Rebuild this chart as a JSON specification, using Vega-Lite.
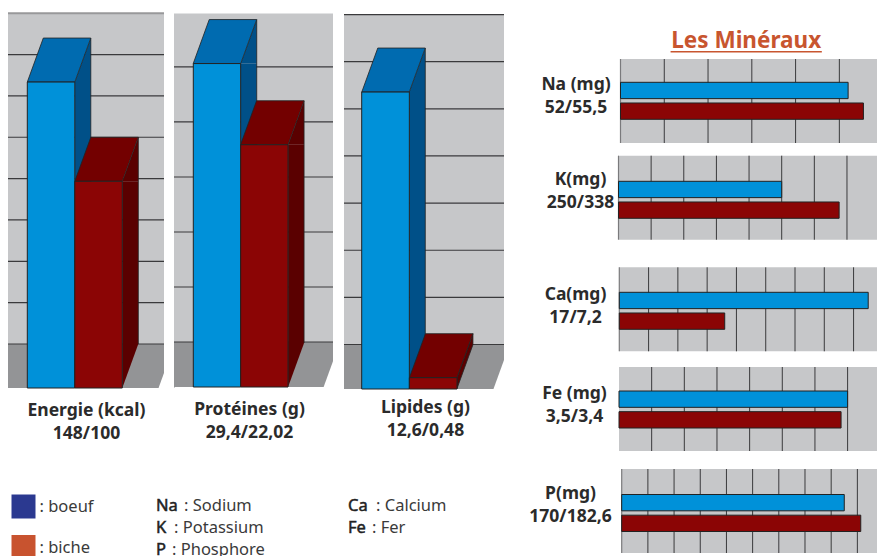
{
"$schema":"https://vega.github.io/schema/vega-lite/v6.json",
"padding":{"left":7,"top":12,"right":0,"bottom":0},
"background":"white",
"config":{"view":{"stroke":null},"font":"Noto Sans","axis":{"titleFont":"Noto Sans","titleFontWeight":"bold","titleColor":"#2b2b2b","titleFontSize":17.5,"titleLineHeight":23.5}},
"bounds":"flush","spacing":610,"resolve":{"scale":{"fill":"independent"}},
"hconcat":[
{"bounds":"flush","spacing":476,"resolve":{"scale":{"fill":"independent"}},"vconcat":[
 {"bounds":"flush","spacing":336,"resolve":{"scale":{"fill":"independent"}},"hconcat":[
  {"bounds":"flush","spacing":10,"resolve":{"scale":{"fill":"independent"}},"hconcat":[
   {"width":156,"height":376,
    "data":{"values":[{"species":"boeuf","v":148},{"species":"biche","v":100}]},
    "layer":[
     {"data":{"values":[{}]},"mark":{"type":"rect","color":"#c6c7c9"},"encoding":{"y":{"datum":181.4,"type":"quantitative","scale":{"domain":[0,181.4],"range":[375,0]},"axis":null},"y2":{"datum":0}}},
     {"data":{"values":[{}]},"mark":{"type":"rect","color":"#939496","y2Offset":-44},"encoding":{"y":{"datum":0,"type":"quantitative","scale":{"domain":[0,181.4]},"axis":null},"y2":{"datum":0}}},
     {"data":{"values":[{}]},"mark":{"type":"point","shape":"M60 0L76 -44L76 0Z","size":4,"filled":true,"opacity":1,"color":"white"},"encoding":{"x":{"datum":"biche","type":"nominal","axis":null},"y":{"datum":0,"type":"quantitative","scale":{"domain":[0,181.4]},"axis":null}}},
     {"data":{"values":[{"g":0},{"g":20},{"g":40},{"g":60},{"g":80},{"g":100},{"g":120},{"g":140}]},"mark":{"type":"rule","color":"#3a3a3c","strokeWidth":1.2,"yOffset":-44},"encoding":{"y":{"field":"g","type":"quantitative","scale":{"domain":[0,181.4]},"axis":null}}},
     {"data":{"values":[{"g":160}]},"mark":{"type":"rule","color":"#98989a","strokeWidth":2,"yOffset":-44},"encoding":{"y":{"field":"g","type":"quantitative","scale":{"domain":[0,181.4]},"axis":null}}},
     {"mark":{"type":"bar","size":16,"xOffset":31.75,"y2Offset":-44},"encoding":{"x":{"field":"species","type":"nominal","scale":{"type":"band","domain":["boeuf","biche"],"range":[19.3,114.3],"paddingInner":0,"paddingOuter":0},"axis":{"labels":false,"ticks":false,"domain":false,"grid":false,"title":["Energie (kcal)","148/100"],"titleX":78,"titleY":21,"titleBaseline":"middle"}},"y":{"field":"v","type":"quantitative","scale":{"domain":[0,181.4]},"axis":null},"y2":{"datum":0},"fill":{"field":"species","scale":{"domain":["boeuf","biche"],"range":["#005088","#5a0000"]},"legend":null}}},
     {"mark":{"type":"point","shape":"M23.75 0L39.75 -44L39.75 0Z","size":4,"filled":true,"opacity":1},"encoding":{"x":{"field":"species","type":"nominal","axis":null},"y":{"field":"v","type":"quantitative","scale":{"domain":[0,181.4]},"axis":null},"fill":{"field":"species","scale":{"domain":["boeuf","biche"],"range":["#005088","#5a0000"]},"legend":null}}},
     {"mark":{"type":"point","shape":"M23.75 0L39.75 -44L23.75 -44Z","size":4,"filled":true,"opacity":1},"encoding":{"x":{"field":"species","type":"nominal","axis":null},"y":{"datum":0,"type":"quantitative","scale":{"domain":[0,181.4]},"axis":null},"fill":{"field":"species","scale":{"domain":["boeuf","biche"],"range":["#005088","#5a0000"]},"legend":null}}},
     {"mark":{"type":"rule","color":"#222222","strokeWidth":0.8,"xOffset":39.75,"yOffset":-44,"y2Offset":-44},"encoding":{"x":{"field":"species","type":"nominal","axis":null},"y":{"field":"v","type":"quantitative","scale":{"domain":[0,181.4]},"axis":null},"y2":{"datum":0}}},
     {"mark":{"type":"point","shape":"M-23.75 0L-7.75 -44L39.75 -44L23.75 0Z","size":4,"filled":true,"opacity":1,"stroke":"#222222","strokeWidth":0.8},"encoding":{"x":{"field":"species","type":"nominal","axis":null},"y":{"field":"v","type":"quantitative","scale":{"domain":[0,181.4]},"axis":null},"fill":{"field":"species","scale":{"domain":["boeuf","biche"],"range":["#006bb0","#730000"]},"legend":null}}},
     {"mark":{"type":"bar","stroke":"#222222","strokeWidth":1},"encoding":{"x":{"field":"species","type":"nominal","axis":null},"y":{"field":"v","type":"quantitative","scale":{"domain":[0,181.4]},"axis":null},"y2":{"datum":0},"fill":{"field":"species","scale":{"domain":["boeuf","biche"],"range":["#0091d9","#8b0505"]},"legend":null}}}
    ],"resolve":{"scale":{"fill":"independent"},"axis":{"x":"independent","y":"independent"}}},
   {"width":159,"height":376,
    "data":{"values":[{"species":"boeuf","v":29.4},{"species":"biche","v":22.02}]},
    "layer":[
     {"data":{"values":[{}]},"mark":{"type":"rect","color":"#c6c7c9"},"encoding":{"y":{"datum":33.95,"type":"quantitative","scale":{"domain":[0,33.95],"range":[374,0.5]},"axis":{"labels":false,"ticks":false,"grid":false,"title":null,"domain":true,"domainColor":"#98989a","domainWidth":1}},"y2":{"datum":0}}},
     {"data":{"values":[{}]},"mark":{"type":"rect","color":"#939496","y2Offset":-45},"encoding":{"y":{"datum":0,"type":"quantitative","scale":{"domain":[0,33.95]},"axis":null},"y2":{"datum":0}}},
     {"data":{"values":[{}]},"mark":{"type":"point","shape":"M59.3 0L75.3 -44L75.3 0Z","size":4,"filled":true,"opacity":1,"color":"white"},"encoding":{"x":{"datum":"biche","type":"nominal","axis":null},"y":{"datum":0,"type":"quantitative","scale":{"domain":[0,33.95]},"axis":null}}},
     {"data":{"values":[{"g":0},{"g":5},{"g":10},{"g":15},{"g":20},{"g":25}]},"mark":{"type":"rule","color":"#3a3a3c","strokeWidth":1.2,"yOffset":-45},"encoding":{"y":{"field":"g","type":"quantitative","scale":{"domain":[0,33.95]},"axis":null}}},
     {"mark":{"type":"bar","size":16,"xOffset":31.75,"y2Offset":-44},"encoding":{"x":{"field":"species","type":"nominal","scale":{"type":"band","domain":["boeuf","biche"],"range":[19.3,114],"paddingInner":0,"paddingOuter":0},"axis":{"labels":false,"ticks":false,"domain":false,"grid":false,"title":["Protéines (g)","29,4/22,02"],"titleX":75,"titleY":20,"titleBaseline":"middle"}},"y":{"field":"v","type":"quantitative","scale":{"domain":[0,33.95]},"axis":null},"y2":{"datum":0},"fill":{"field":"species","scale":{"domain":["boeuf","biche"],"range":["#005088","#5a0000"]},"legend":null}}},
     {"mark":{"type":"point","shape":"M23.75 0L39.75 -44L39.75 0Z","size":4,"filled":true,"opacity":1},"encoding":{"x":{"field":"species","type":"nominal","axis":null},"y":{"field":"v","type":"quantitative","scale":{"domain":[0,33.95]},"axis":null},"fill":{"field":"species","scale":{"domain":["boeuf","biche"],"range":["#005088","#5a0000"]},"legend":null}}},
     {"mark":{"type":"point","shape":"M23.75 0L39.75 -44L23.75 -44Z","size":4,"filled":true,"opacity":1},"encoding":{"x":{"field":"species","type":"nominal","axis":null},"y":{"datum":0,"type":"quantitative","scale":{"domain":[0,33.95]},"axis":null},"fill":{"field":"species","scale":{"domain":["boeuf","biche"],"range":["#005088","#5a0000"]},"legend":null}}},
     {"mark":{"type":"rule","color":"#222222","strokeWidth":0.8,"xOffset":39.75,"yOffset":-44,"y2Offset":-44},"encoding":{"x":{"field":"species","type":"nominal","axis":null},"y":{"field":"v","type":"quantitative","scale":{"domain":[0,33.95]},"axis":null},"y2":{"datum":0}}},
     {"mark":{"type":"point","shape":"M-23.75 0L-7.75 -44L39.75 -44L23.75 0Z","size":4,"filled":true,"opacity":1,"stroke":"#222222","strokeWidth":0.8},"encoding":{"x":{"field":"species","type":"nominal","axis":null},"y":{"field":"v","type":"quantitative","scale":{"domain":[0,33.95]},"axis":null},"fill":{"field":"species","scale":{"domain":["boeuf","biche"],"range":["#006bb0","#730000"]},"legend":null}}},
     {"mark":{"type":"bar","stroke":"#222222","strokeWidth":1},"encoding":{"x":{"field":"species","type":"nominal","axis":null},"y":{"field":"v","type":"quantitative","scale":{"domain":[0,33.95]},"axis":null},"y2":{"datum":0},"fill":{"field":"species","scale":{"domain":["boeuf","biche"],"range":["#0091d9","#8b0505"]},"legend":null}}}
    ],"resolve":{"scale":{"fill":"independent"},"axis":{"x":"independent","y":"independent"}}}
  ]},
  {"width":160,"height":376,
   "data":{"values":[{"species":"boeuf","v":12.6},{"species":"biche","v":0.48}]},
   "layer":[
    {"data":{"values":[{}]},"mark":{"type":"rect","color":"#c6c7c9"},"encoding":{"y":{"datum":15.89,"type":"quantitative","scale":{"domain":[0,15.89],"range":[376,1.5]},"axis":null},"y2":{"datum":0}}},
    {"data":{"values":[{}]},"mark":{"type":"rect","color":"#939496","y2Offset":-44.5},"encoding":{"y":{"datum":0,"type":"quantitative","scale":{"domain":[0,15.89]},"axis":null},"y2":{"datum":0}}},
    {"data":{"values":[{}]},"mark":{"type":"point","shape":"M60.3 0L76.3 -44L76.3 0Z","size":4,"filled":true,"opacity":1,"color":"white"},"encoding":{"x":{"datum":"biche","type":"nominal","axis":null},"y":{"datum":0,"type":"quantitative","scale":{"domain":[0,15.89]},"axis":null}}},
    {"data":{"values":[{"g":0},{"g":2},{"g":4},{"g":6},{"g":8},{"g":10},{"g":12},{"g":14}]},"mark":{"type":"rule","color":"#3a3a3c","strokeWidth":1.2,"yOffset":-44.5},"encoding":{"y":{"field":"g","type":"quantitative","scale":{"domain":[0,15.89]},"axis":null}}},
    {"transform":[{"filter":"datum.v >= 1"}],"mark":{"type":"bar","size":16,"xOffset":31.75,"y2Offset":-44},"encoding":{"x":{"field":"species","type":"nominal","scale":{"type":"band","domain":["boeuf","biche"],"range":[17.7,113],"paddingInner":0,"paddingOuter":0},"axis":{"labels":false,"ticks":false,"domain":false,"grid":false,"title":["Lipides (g)","12,6/0,48"],"titleX":81,"titleY":18,"titleBaseline":"middle"}},"y":{"field":"v","type":"quantitative","scale":{"domain":[0,15.89]},"axis":null},"y2":{"datum":0},"fill":{"field":"species","scale":{"domain":["boeuf","biche"],"range":["#005088","#5a0000"]},"legend":null}}},
    {"transform":[{"filter":"datum.v >= 1"}],"mark":{"type":"point","shape":"M23.75 0L39.75 -44L39.75 0Z","size":4,"filled":true,"opacity":1},"encoding":{"x":{"field":"species","type":"nominal","axis":null},"y":{"field":"v","type":"quantitative","scale":{"domain":[0,15.89]},"axis":null},"fill":{"field":"species","scale":{"domain":["boeuf","biche"],"range":["#005088","#5a0000"]},"legend":null}}},
    {"transform":[{"filter":"datum.v >= 1"}],"mark":{"type":"point","shape":"M23.75 0L39.75 -44L23.75 -44Z","size":4,"filled":true,"opacity":1},"encoding":{"x":{"field":"species","type":"nominal","axis":null},"y":{"datum":0,"type":"quantitative","scale":{"domain":[0,15.89]},"axis":null},"fill":{"field":"species","scale":{"domain":["boeuf","biche"],"range":["#005088","#5a0000"]},"legend":null}}},
    {"transform":[{"filter":"datum.v < 1"}],"mark":{"type":"point","shape":"M23.75 0L39.75 -44L39.75 -33L23.75 11Z","size":4,"filled":true,"opacity":1,"stroke":"#222222","strokeWidth":0.8},"encoding":{"x":{"field":"species","type":"nominal","axis":null},"y":{"field":"v","type":"quantitative","scale":{"domain":[0,15.89]},"axis":null},"fill":{"field":"species","scale":{"domain":["boeuf","biche"],"range":["#005088","#5a0000"]},"legend":null}}},
    {"transform":[{"filter":"datum.v >= 1"}],"mark":{"type":"rule","color":"#222222","strokeWidth":0.8,"xOffset":39.75,"yOffset":-44,"y2Offset":-44},"encoding":{"x":{"field":"species","type":"nominal","axis":null},"y":{"field":"v","type":"quantitative","scale":{"domain":[0,15.89]},"axis":null},"y2":{"datum":0}}},
    {"mark":{"type":"point","shape":"M-23.75 0L-7.75 -44L39.75 -44L23.75 0Z","size":4,"filled":true,"opacity":1,"stroke":"#222222","strokeWidth":0.8},"encoding":{"x":{"field":"species","type":"nominal","axis":null},"y":{"field":"v","type":"quantitative","scale":{"domain":[0,15.89]},"axis":null},"fill":{"field":"species","scale":{"domain":["boeuf","biche"],"range":["#006bb0","#730000"]},"legend":null}}},
    {"mark":{"type":"bar","stroke":"#222222","strokeWidth":1},"encoding":{"x":{"field":"species","type":"nominal","axis":null},"y":{"field":"v","type":"quantitative","scale":{"domain":[0,15.89]},"axis":null},"y2":{"datum":0},"fill":{"field":"species","scale":{"domain":["boeuf","biche"],"range":["#0091d9","#8b0505"]},"legend":null}}}
   ],"resolve":{"scale":{"fill":"independent"},"axis":{"x":"independent","y":"independent"}}}
 ]},
 {"bounds":"flush","spacing":339.5,"resolve":{"scale":{"fill":"independent"}},"hconcat":[
  {"bounds":"flush","spacing":147.5,"resolve":{"scale":{"fill":"independent"}},"hconcat":[
   {"bounds":"flush","spacing":0,"resolve":{"scale":{"fill":"independent"}},"hconcat":[
    {"width":31,"height":67,"data":{"values":[{"species":"boeuf"},{"species":"biche"}]},
     "mark":{"type":"point","shape":"square","size":576,"filled":true,"opacity":1},
     "encoding":{"y":{"field":"species","type":"nominal","scale":{"type":"point","domain":["boeuf","biche"],"range":[17.5,58],"padding":0},"axis":null},"fill":{"field":"species","scale":{"domain":["boeuf","biche"],"range":["#2b3990","#c8532f"]},"legend":null}}},
    {"width":1,"height":67,"data":{"values":[{"species":"boeuf","t":": boeuf"},{"species":"biche","t":": biche"}]},
     "mark":{"type":"text","align":"left","font":"Noto Sans","fontSize":16.5,"color":"#3a3a3a"},
     "encoding":{"y":{"field":"species","type":"nominal","scale":{"type":"point","domain":["boeuf","biche"],"range":[18,59],"padding":0},"axis":null},"text":{"field":"t"}}}
   ]},
   {"width":1,"height":67,"data":{"values":[{"abbr":"Na","t":": Sodium"},{"abbr":"K","t":": Potassium"},{"abbr":"P","t":": Phosphore"}]},
    "layer":[
     {"transform":[{"filter":"datum.abbr === 'Na'"}],"mark":{"type":"text","align":"left","dx":28,"font":"Noto Sans","fontSize":16.5,"color":"#3a3a3a"},"encoding":{"y":{"field":"abbr","type":"nominal","scale":{"type":"point","domain":["Na","K","P"],"range":[17,61],"padding":0},"axis":null},"text":{"field":"t"}}},
     {"transform":[{"filter":"datum.abbr === 'K'"}],"mark":{"type":"text","align":"left","dx":18,"font":"Noto Sans","fontSize":16.5,"color":"#3a3a3a"},"encoding":{"y":{"field":"abbr","type":"nominal","scale":{"type":"point","domain":["Na","K","P"],"range":[17,61],"padding":0},"axis":null},"text":{"field":"t"}}},
     {"transform":[{"filter":"datum.abbr === 'P'"}],"mark":{"type":"text","align":"left","dx":16,"font":"Noto Sans","fontSize":16.5,"color":"#3a3a3a"},"encoding":{"y":{"field":"abbr","type":"nominal","scale":{"type":"point","domain":["Na","K","P"],"range":[17,61],"padding":0},"axis":null},"text":{"field":"t"}}},
     {"mark":{"type":"text","align":"left","font":"Noto Sans","fontSize":16.5,"color":"#222222","stroke":"#222222","strokeWidth":0.5},"encoding":{"y":{"field":"abbr","type":"nominal","scale":{"type":"point","domain":["Na","K","P"],"range":[17,61],"padding":0},"axis":null},"text":{"field":"abbr"}}}
    ]}
  ]},
  {"width":1,"height":67,"data":{"values":[{"abbr":"Ca","t":": Calcium"},{"abbr":"Fe","t":": Fer"}]},
   "layer":[
    {"transform":[{"filter":"datum.abbr === 'Ca'"}],"mark":{"type":"text","align":"left","dx":28,"font":"Noto Sans","fontSize":16.5,"color":"#3a3a3a"},"encoding":{"y":{"field":"abbr","type":"nominal","scale":{"type":"point","domain":["Ca","Fe","_"],"range":[17,61],"padding":0},"axis":null},"text":{"field":"t"}}},
    {"transform":[{"filter":"datum.abbr === 'Fe'"}],"mark":{"type":"text","align":"left","dx":24,"font":"Noto Sans","fontSize":16.5,"color":"#3a3a3a"},"encoding":{"y":{"field":"abbr","type":"nominal","scale":{"type":"point","domain":["Ca","Fe","_"],"range":[17,61],"padding":0},"axis":null},"text":{"field":"t"}}},
    {"mark":{"type":"text","align":"left","font":"Noto Sans","fontSize":16.5,"color":"#222222","stroke":"#222222","strokeWidth":0.5},"encoding":{"y":{"field":"abbr","type":"nominal","scale":{"type":"point","domain":["Ca","Fe","_"],"range":[17,61],"padding":0},"axis":null},"text":{"field":"abbr"}}}
   ]}
 ]}
]},
{"bounds":"flush","spacing":456,"resolve":{"scale":{"fill":"independent"}},"vconcat":[
 {"bounds":"flush","spacing":354,"resolve":{"scale":{"fill":"independent"}},"vconcat":[
  {"bounds":"flush","spacing":254.3,"resolve":{"scale":{"fill":"independent"}},"vconcat":[
   {"bounds":"flush","spacing":142.7,"resolve":{"scale":{"fill":"independent"}},"vconcat":[
    {"bounds":"flush","spacing":0,"resolve":{"scale":{"fill":"independent"}},"vconcat":[
     {"width":259,"height":46,"data":{"values":[{"t":"Les Minéraux"}]},
      "layer":[
       {"mark":{"type":"text","font":"Noto Sans","fontWeight":"bold","fontSize":22.5,"color":"#c8552f"},"encoding":{"x":{"datum":0.495,"type":"quantitative","scale":{"domain":[0,1]},"axis":null},"y":{"datum":0.39,"type":"quantitative","scale":{"domain":[0,1],"range":[46,0]},"axis":null},"text":{"field":"t"}}},
       {"mark":{"type":"rule","color":"#c8552f","strokeWidth":1.5},"encoding":{"x":{"datum":0.203,"type":"quantitative","scale":{"domain":[0,1]},"axis":null},"x2":{"datum":0.787},"y":{"datum":0.16,"type":"quantitative","scale":{"domain":[0,1]},"axis":null}}}
      ]},
     {"width":259,"height":84,"layer":[
      {"data":{"values":[{}]},"mark":{"type":"rect","color":"#c6c7c9"},"encoding":{"x":{"datum":0,"type":"quantitative","scale":{"domain":[0,58.6],"range":[2.5,259]},"axis":null},"x2":{"datum":58.6}}},
      {"data":{"values":[{"t":0}]},"mark":{"type":"rule","color":"#7a7a7c","strokeWidth":1.2},"encoding":{"x":{"field":"t","type":"quantitative","scale":{"domain":[0,58.6]},"axis":null}}},
      {"data":{"values":[{"t":10},{"t":20},{"t":30},{"t":40},{"t":50}]},"mark":{"type":"rule","color":"#3a3a3c","strokeWidth":1},"encoding":{"x":{"field":"t","type":"quantitative","scale":{"domain":[0,58.6]},"axis":null}}},
      {"data":{"values":[{"species":"boeuf","v":52},{"species":"biche","v":55.5}]},"mark":{"type":"bar","stroke":"#222222","strokeWidth":1},"encoding":{"x":{"field":"v","type":"quantitative","scale":{"domain":[0,58.6]},"axis":null},"y":{"field":"species","type":"nominal","scale":{"type":"band","domain":["boeuf","biche"],"range":[23.3,60.3],"paddingInner":0.21,"paddingOuter":0},"axis":{"labels":false,"ticks":false,"domain":false,"grid":false,"title":["Na (mg)","52/55,5"],"titleAngle":0,"titleAlign":"center","titleBaseline":"middle","titleX":-42.5,"titleY":25}},"fill":{"field":"species","scale":{"domain":["boeuf","biche"],"range":["#0091d9","#8b0505"]},"legend":null}}}
     ]}
    ]},
    {"width":259,"height":84,"layer":[
     {"data":{"values":[{}]},"mark":{"type":"rect","color":"#c6c7c9"},"encoding":{"x":{"datum":0,"type":"quantitative","scale":{"domain":[0,396],"range":[0.5,259]},"axis":null},"x2":{"datum":396}}},
     {"data":{"values":[{"t":0}]},"mark":{"type":"rule","color":"#7a7a7c","strokeWidth":1.2},"encoding":{"x":{"field":"t","type":"quantitative","scale":{"domain":[0,396]},"axis":null}}},
     {"data":{"values":[{"t":50},{"t":100},{"t":150},{"t":200},{"t":250},{"t":300},{"t":350}]},"mark":{"type":"rule","color":"#3a3a3c","strokeWidth":1},"encoding":{"x":{"field":"t","type":"quantitative","scale":{"domain":[0,396]},"axis":null}}},
     {"data":{"values":[{"species":"boeuf","v":250},{"species":"biche","v":338}]},"mark":{"type":"bar","stroke":"#222222","strokeWidth":1},"encoding":{"x":{"field":"v","type":"quantitative","scale":{"domain":[0,396]},"axis":null},"y":{"field":"species","type":"nominal","scale":{"type":"band","domain":["boeuf","biche"],"range":[25.6,62.6],"paddingInner":0.21,"paddingOuter":0},"axis":{"labels":false,"ticks":false,"domain":false,"grid":false,"title":["K(mg)","250/338"],"titleAngle":0,"titleAlign":"center","titleBaseline":"middle","titleX":-38,"titleY":23.3}},"fill":{"field":"species","scale":{"domain":["boeuf","biche"],"range":["#0091d9","#8b0505"]},"legend":null}}}
    ]}
   ]},
   {"width":259,"height":84,"layer":[
    {"data":{"values":[{}]},"mark":{"type":"rect","color":"#c6c7c9"},"encoding":{"x":{"datum":0,"type":"quantitative","scale":{"domain":[0,17.6],"range":[1.3,259]},"axis":null},"x2":{"datum":17.6}}},
    {"data":{"values":[{"t":0}]},"mark":{"type":"rule","color":"#7a7a7c","strokeWidth":1.2},"encoding":{"x":{"field":"t","type":"quantitative","scale":{"domain":[0,17.6]},"axis":null}}},
    {"data":{"values":[{"t":2},{"t":4},{"t":6},{"t":8},{"t":10},{"t":12},{"t":14},{"t":16}]},"mark":{"type":"rule","color":"#3a3a3c","strokeWidth":1},"encoding":{"x":{"field":"t","type":"quantitative","scale":{"domain":[0,17.6]},"axis":null}}},
    {"data":{"values":[{"species":"boeuf","v":17},{"species":"biche","v":7.2}]},"mark":{"type":"bar","stroke":"#222222","strokeWidth":1},"encoding":{"x":{"field":"v","type":"quantitative","scale":{"domain":[0,17.6]},"axis":null},"y":{"field":"species","type":"nominal","scale":{"type":"band","domain":["boeuf","biche"],"range":[25,62],"paddingInner":0.21,"paddingOuter":0},"axis":{"labels":false,"ticks":false,"domain":false,"grid":false,"title":["Ca(mg)","17/7,2"],"titleAngle":0,"titleAlign":"center","titleBaseline":"middle","titleX":-43,"titleY":26.7}},"fill":{"field":"species","scale":{"domain":["boeuf","biche"],"range":["#0091d9","#8b0505"]},"legend":null}}}
   ]}
  ]},
  {"width":259,"height":84,"layer":[
   {"data":{"values":[{}]},"mark":{"type":"rect","color":"#c6c7c9"},"encoding":{"x":{"datum":0,"type":"quantitative","scale":{"domain":[0,3.95],"range":[1,259]},"axis":null},"x2":{"datum":3.95}}},
   {"data":{"values":[{"t":0.5},{"t":1},{"t":1.5},{"t":2},{"t":2.5},{"t":3},{"t":3.5}]},"mark":{"type":"rule","color":"#3a3a3c","strokeWidth":1},"encoding":{"x":{"field":"t","type":"quantitative","scale":{"domain":[0,3.95]},"axis":null}}},
   {"data":{"values":[{"species":"boeuf","v":3.5},{"species":"biche","v":3.4}]},"mark":{"type":"bar","stroke":"#222222","strokeWidth":1},"encoding":{"x":{"field":"v","type":"quantitative","scale":{"domain":[0,3.95]},"axis":null},"y":{"field":"species","type":"nominal","scale":{"type":"band","domain":["boeuf","biche"],"range":[24,61],"paddingInner":0.21,"paddingOuter":0},"axis":{"labels":false,"ticks":false,"domain":false,"grid":false,"title":["Fe (mg)","3,5/3,4"],"titleAngle":0,"titleAlign":"center","titleBaseline":"middle","titleX":-44,"titleY":26}},"fill":{"field":"species","scale":{"domain":["boeuf","biche"],"range":["#0091d9","#8b0505"]},"legend":null}}}
  ]}
 ]},
 {"width":259,"height":84,"layer":[
  {"data":{"values":[{}]},"mark":{"type":"rect","color":"#c6c7c9"},"encoding":{"x":{"datum":0,"type":"quantitative","scale":{"domain":[0,195],"range":[3.7,259]},"axis":null},"x2":{"datum":195}}},
  {"data":{"values":[{"t":0}]},"mark":{"type":"rule","color":"#7a7a7c","strokeWidth":1.2},"encoding":{"x":{"field":"t","type":"quantitative","scale":{"domain":[0,195]},"axis":null}}},
  {"data":{"values":[{"t":20},{"t":40},{"t":60},{"t":80},{"t":100},{"t":120},{"t":140},{"t":160},{"t":180}]},"mark":{"type":"rule","color":"#3a3a3c","strokeWidth":1},"encoding":{"x":{"field":"t","type":"quantitative","scale":{"domain":[0,195]},"axis":null}}},
  {"data":{"values":[{"species":"boeuf","v":170},{"species":"biche","v":182.6}]},"mark":{"type":"bar","stroke":"#222222","strokeWidth":1},"encoding":{"x":{"field":"v","type":"quantitative","scale":{"domain":[0,195]},"axis":null},"y":{"field":"species","type":"nominal","scale":{"type":"band","domain":["boeuf","biche"],"range":[25.5,62.5],"paddingInner":0.21,"paddingOuter":0},"axis":{"labels":false,"ticks":false,"domain":false,"grid":false,"title":["P(mg)","170/182,6"],"titleAngle":0,"titleAlign":"center","titleBaseline":"middle","titleX":-48,"titleY":24}},"fill":{"field":"species","scale":{"domain":["boeuf","biche"],"range":["#0091d9","#8b0505"]},"legend":null}}}
 ]}
]}
]
}
